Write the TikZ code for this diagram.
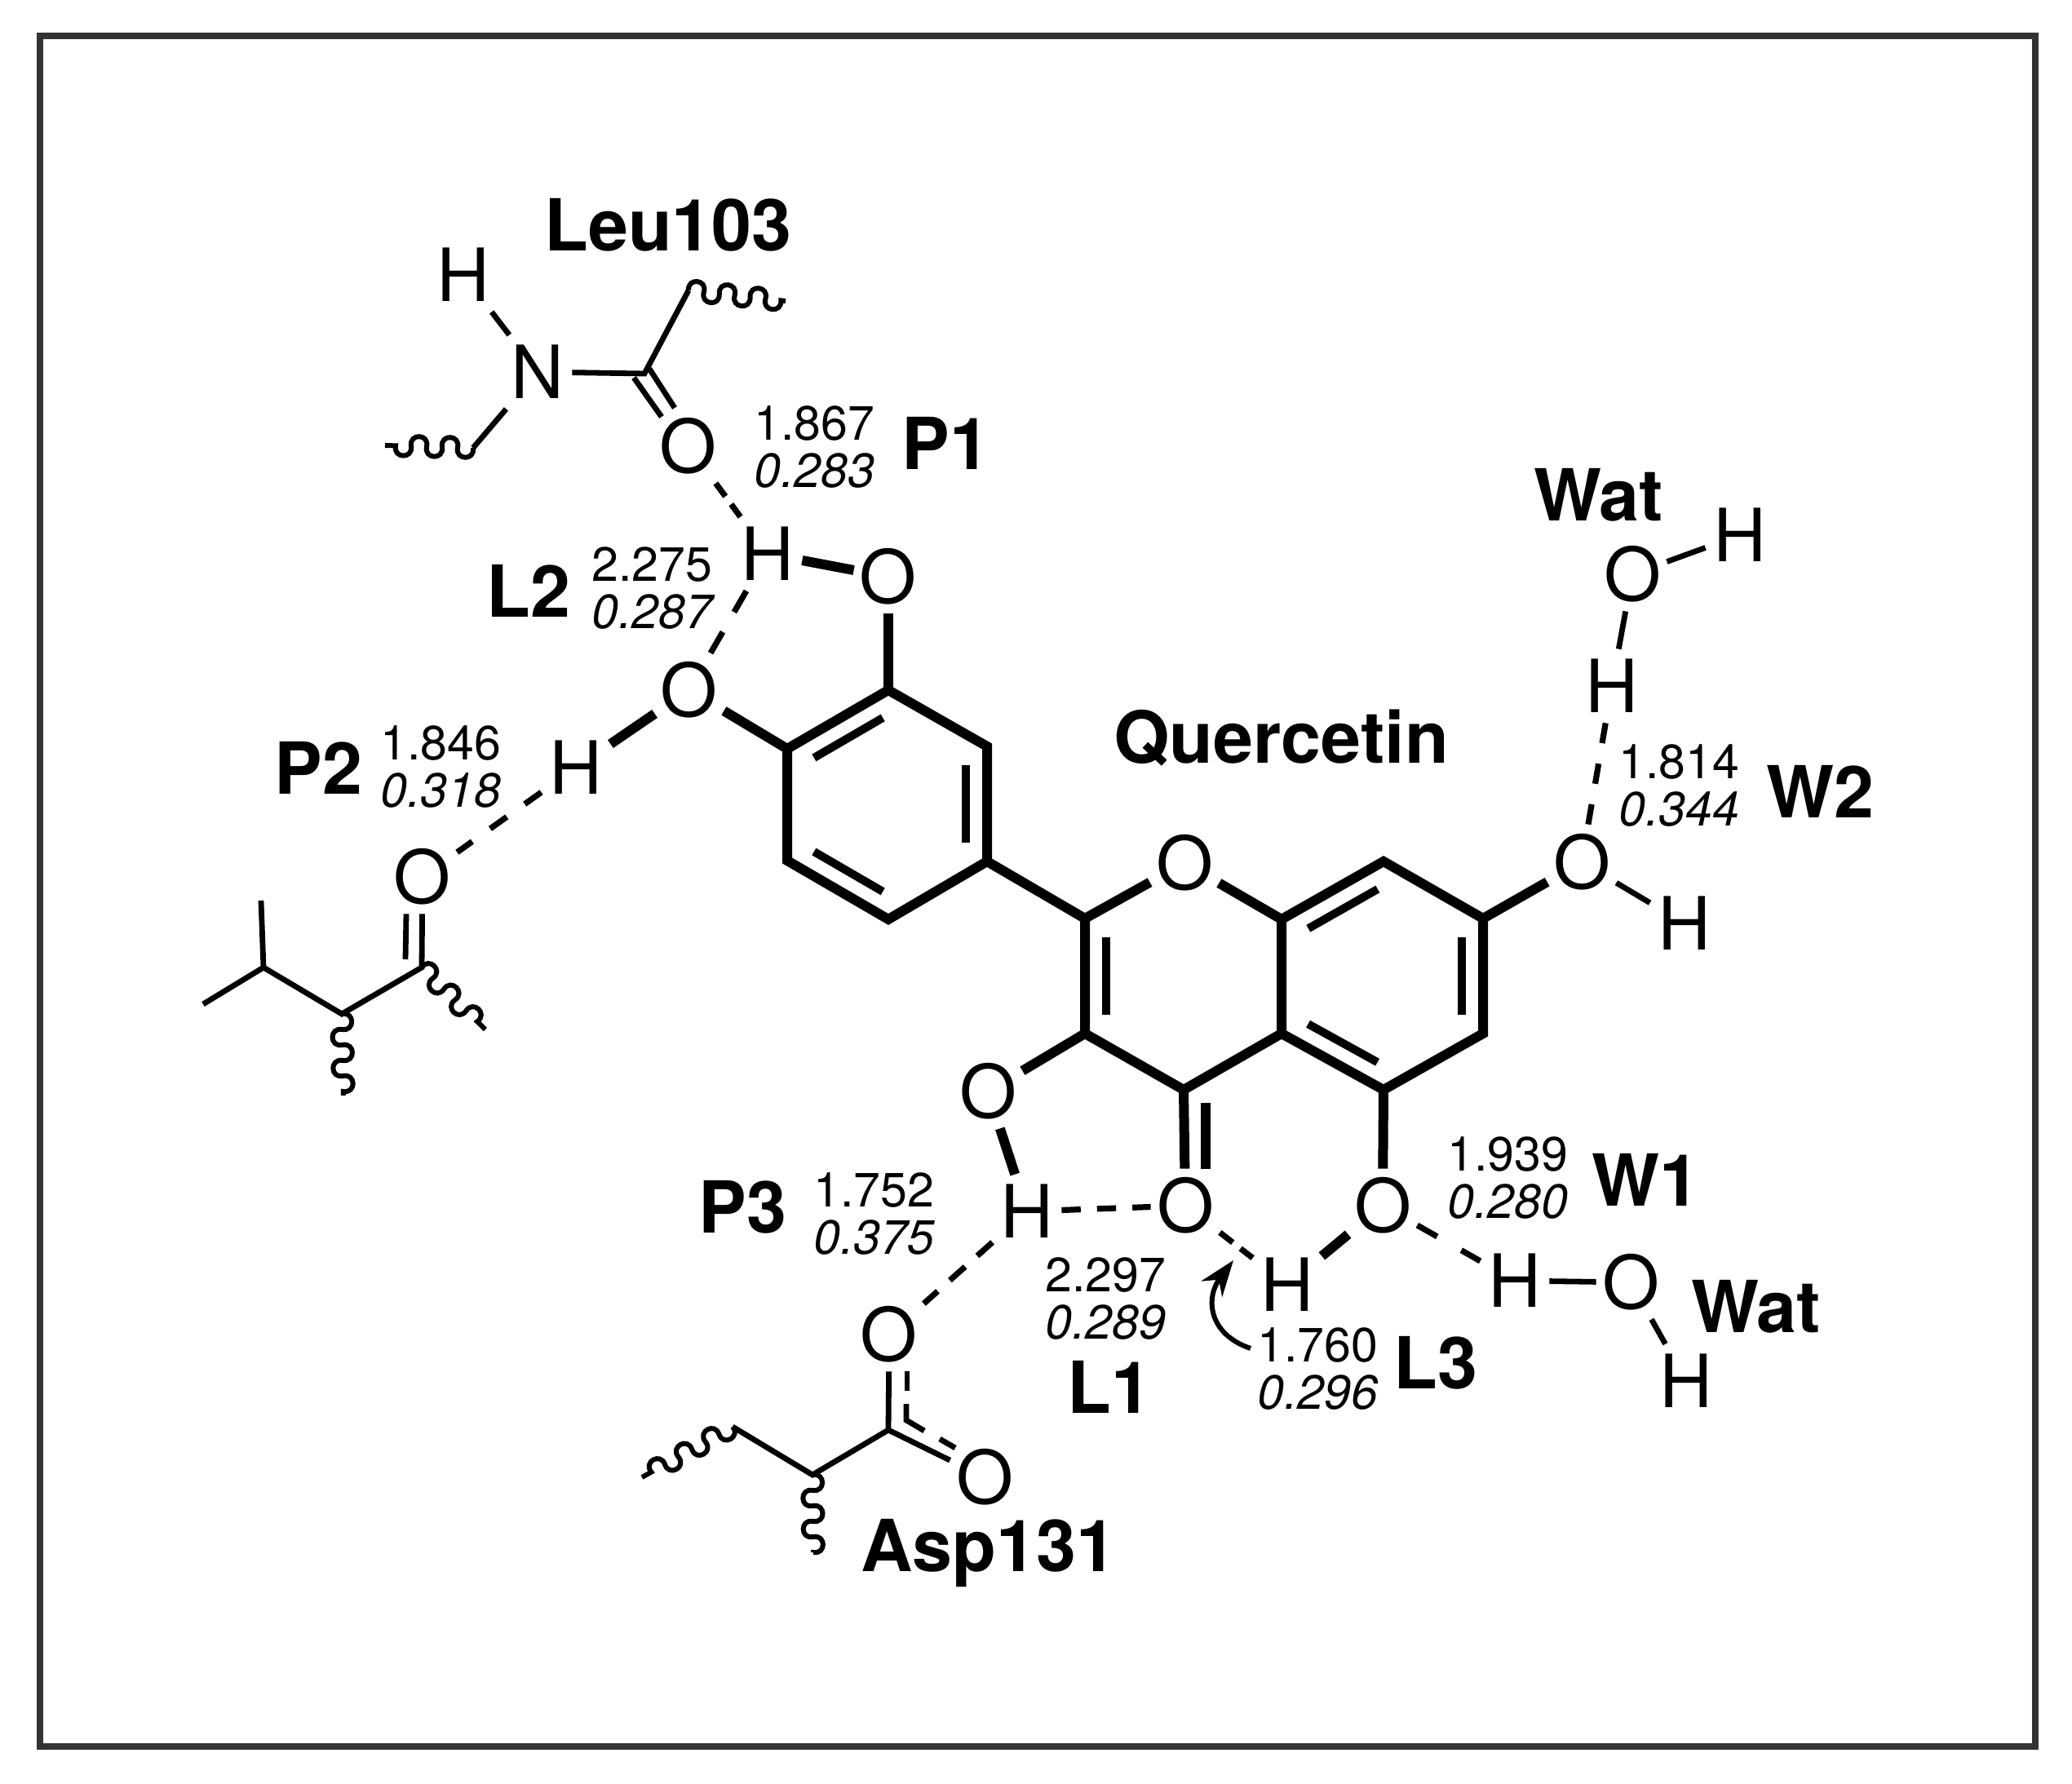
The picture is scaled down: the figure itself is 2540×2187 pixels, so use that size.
\documentclass[tikz,border=0pt]{standalone}
\usepackage{fontspec}
\setmainfont{TeX Gyre Heros}
\usetikzlibrary{arrows.meta,calc,decorations}
\definecolor{framegray}{HTML}{333333}
% rounded wave for the cut bonds
\pgfdeclaredecoration{chemwave}{up}{
  \state{up}[width=9.5pt,next state=down]{
    \pgfpathcurveto{\pgfpoint{-1.5pt}{8pt}}{\pgfpoint{11pt}{8pt}}{\pgfpoint{9.5pt}{0pt}}
  }
  \state{down}[width=9.5pt,next state=up]{
    \pgfpathcurveto{\pgfpoint{-1.5pt}{-8pt}}{\pgfpoint{11pt}{-8pt}}{\pgfpoint{9.5pt}{0pt}}
  }
  \state{final}{\pgfpathlineto{\pgfpointdecoratedpathlast}}
}
\tikzset{
  atom/.style={font=\fontsize{45}{54}\selectfont,inner sep=0pt,minimum width=42pt,minimum height=45pt},
  bold label/.style={font=\fontsize{44}{52}\selectfont\bfseries,inner sep=0pt,anchor=base west},
  value/.style={font=\fontsize{29.5}{35}\selectfont,inner sep=0pt,anchor=base west},
  ringbond/.style={line width=6pt,line join=miter},
  innerbond/.style={line width=5pt},
  resbond/.style={line width=3.4pt},
  hbond/.style 2 args={line width=3.6pt,dash pattern=on #1pt off #2pt},
  wavy/.style={line width=3pt,decorate,decoration=chemwave},
}
\begin{document}
\begin{tikzpicture}[x=.5pt,y=-.5pt]
\useasboundingbox (0,0) rectangle (2540,2187);
\draw[framegray,line width=4pt] (49,44) rectangle (2495,2141);
% quercetin skeleton
\coordinate (c3p) at (1089,846);
\coordinate (c4p) at (965,918);
\coordinate (c5p) at (965,1055);
\coordinate (c6p) at (1089,1127);
\coordinate (c1p) at (1210,1056);
\coordinate (c2p) at (1210,915);
\coordinate (c2) at (1330,1126);
\coordinate (c3) at (1330,1267);
\coordinate (c4) at (1451,1336);
\coordinate (c4a) at (1571,1267);
\coordinate (c5) at (1696,1336);
\coordinate (c6) at (1818,1267);
\coordinate (c7) at (1818,1126);
\coordinate (c8) at (1696,1056);
\coordinate (c8a) at (1571,1127);
\node[atom] (Oring) at (1452,1058) {O};
\node[atom] (Othree) at (1211,1338) {O};
\node[atom] (Ofour) at (1453,1478) {O};
\node[atom] (Ofive) at (1695,1478) {O};
\node[atom] (Oseven) at (1939,1057) {O};
\node[atom] (Othreep) at (1089,707) {O};
\node[atom] (Ofourp) at (845,846) {O};
\draw[ringbond] (c3p) -- (c4p) -- (c5p) -- (c6p) -- (c1p) -- (c2p) -- cycle;
\draw[ringbond] (c1p) -- (c2) -- (c3) -- (c4) -- (c4a) -- (c8a);
\draw[ringbond] (c4a) -- (c5) -- (c6) -- (c7) -- (c8) -- (c8a);
\draw[ringbond] (c2) -- (Oring) -- (c8a);
\foreach \a/\b in {c3p/c4p,c1p/c2p,c5p/c6p,c2/c3,c8/c8a,c6/c7,c4a/c5}
  \draw[innerbond] ($(\a)!.16!(\b)!13pt!90:(\b)$) -- ($(\b)!.16!(\a)!13pt!-90:(\a)$);
\draw[ringbond] (c3) -- (Othree);
\draw[ringbond] (c4) -- (Ofour);
\draw[ringbond] ($(c4)+(27,16)$) -- ($(Ofour.north)+(25,0)$);
\draw[ringbond] (c5) -- (Ofive);
\draw[ringbond] (c7) -- (Oseven);
\draw[ringbond] (c3p) -- (Othreep);
\draw[ringbond] (c4p) -- (Ofourp);
% hydrogens on the ligand
\node[atom] (Hthreep) at (941,679) {H};
\node[atom] (Hfourp) at (706,941) {H};
\node[atom] (Hthree) at (1259,1485) {H};
\node[atom] (Hfive) at (1578,1575) {H};
\node[atom] (Hseven) at (2065,1132) {H};
\draw[ringbond] (Othreep) -- (Hthreep);
\draw[ringbond] (Ofourp) -- (Hfourp);
\draw[ringbond] (Othree) -- (Hthree);
\draw[ringbond] (Ofive) -- (Hfive);
\draw[resbond] (Oseven) -- (Hseven);
% Leu103
\node[atom] (HLeu) at (568,337) {H};
\node[atom] (NLeu) at (659,456) {N};
\node[atom] (OLeu) at (844,547) {O};
\coordinate (cLeu) at (790,458);
\coordinate (caLeu) at (844,356);
\coordinate (wavyLeuA) at (963,369);
\coordinate (nLeu) at (580,549);
\coordinate (wavyLeuB) at (472,546);
\draw[resbond] (HLeu) -- (NLeu);
\draw[resbond] (NLeu) -- (cLeu) -- (caLeu);
\draw[resbond] ($(cLeu)+(6,-6)$) -- ($(OLeu)+(-17,-47)$);
\draw[resbond] ($(cLeu)+(-13,5)$) -- ($(OLeu)+(-33,-36)$);
\draw[resbond] (NLeu) -- (nLeu);
\draw[wavy] (caLeu) -- (wavyLeuA);
\draw[wavy] (nLeu) -- (wavyLeuB);
% P2 backbone
\node[atom] (OVal) at (518,1075) {O};
\coordinate (cVal) at (517,1186);
\coordinate (caVal) at (419,1243);
\coordinate (cbVal) at (323,1186);
\coordinate (meA) at (249,1231);
\coordinate (meB) at (320,1104);
\coordinate (wavyValA) at (595,1262);
\coordinate (wavyValB) at (421,1343);
\draw[resbond] (meA) -- (cbVal) -- (caVal) -- (cVal) -- (OVal);
\draw[resbond] (cbVal) -- (meB);
\draw[resbond] ($(cVal)+(-20,-10)$) -- ($(OVal.south)+(-20,0)$);
\draw[wavy] (cVal) -- (wavyValA);
\draw[wavy] (caVal) -- (wavyValB);
% Asp131
\node[atom] (OAspA) at (1090,1636) {O};
\node[atom] (OAspB) at (1207,1811) {O};
\coordinate (cAsp) at (1089,1753);
\coordinate (caAsp) at (996,1808);
\coordinate (cbAsp) at (898,1749);
\coordinate (wavyAspA) at (787,1811);
\coordinate (wavyAspB) at (997,1903);
\draw[resbond] (OAspA) -- (cAsp) -- (OAspB);
\draw[resbond] (cAsp) -- (caAsp) -- (cbAsp);
\draw[resbond] ($(OAspA.south)+(22,0)$) -- ++(0,24);
\draw[resbond] ($(cAsp)+(22,-32)$) -- ($(cAsp)+(22,-12)$) -- ($(cAsp)+(44,1)$);
\draw[resbond] ($(cAsp)+(63,11)$) -- ($(cAsp)+(82,22)$);
\draw[wavy] (cbAsp) -- (wavyAspA);
\draw[wavy] (caAsp) -- (wavyAspB);
% water molecules
\node[atom] (OWatA) at (2001,704) {O};
\node[atom] (HWatA) at (2133,656) {H};
\node[atom] (HWatB) at (1976,841) {H};
\node[atom] (OWatB) at (1999,1572) {O};
\node[atom] (HWatC) at (1857,1570) {H};
\node[atom] (HWatD) at (2067,1693) {H};
\draw[resbond] (OWatA) -- (HWatA);
\draw[resbond] (OWatA) -- (HWatB);
\draw[resbond] (HWatC) -- (OWatB);
\draw[resbond] (OWatB) -- (HWatD);
% hydrogen bonds
\draw[hbond={10}{6}] (OLeu) -- (Hthreep);
\draw[hbond={15}{14}] (Hthreep) -- (Ofourp);
\draw[hbond={12.5}{13.5}] (Hfourp) -- (OVal);
\draw[hbond={12.5}{10}] (Hthree) -- (OAspA);
\draw[hbond={11.7}{10}] (Hthree) -- (Ofour);
\draw[hbond={10}{6}] (Ofour) -- (Hfive);
\draw[hbond={14}{17}] (Ofive) -- (HWatC);
\draw[hbond={12.5}{12.75}] (HWatB) -- (Oseven);
% arrow to the L3 contact
\coordinate (arrowStart) at (1533,1653);
\coordinate (arrowTip) at (1512,1545);
\draw[line width=3pt,-{Stealth[length=22pt,width=16pt]}] (arrowStart) .. controls (1480,1635) and (1478,1590) .. (arrowTip);
% distances and charges
\foreach \nm/\px/\py/\va/\vb in {Pone/924/540/1.867/0.283,Ltwo/725/713/2.275/0.287,Ptwo/466/932/1.846/0.318,Wtwo/1984/955/1.814/0.344,Pthree/997/1479/1.752/0.375,Lone/1281/1583/2.297/0.289,Wone/1774/1435/1.939/0.280,Lthree/1541/1669/1.760/0.296}{
  \node[value] (\nm a) at (\px,\py) {\va};
  \node[value] (\nm b) at (\px,\py+58) {\textit{\vb}};
}
% names
\foreach \nm/\px/\py/\txt in {leu/667/308/Leu103,asp/1055/1926/Asp131,quer/1365/936/Quercetin,pone/1105/576/P1,ltwo/596/757/L2,ptwo/336/974/P2,pthree/856/1511/P3,lone/1308/1732/L1,lthree/1708/1702/L3,wone/1951/1478/W1,wtwo/2165/1003/W2,wata/1880/639/Wat,watb/2073/1633/Wat}
  \node[bold label] (\nm) at (\px,\py) {\txt};
\end{tikzpicture}
\end{document}
